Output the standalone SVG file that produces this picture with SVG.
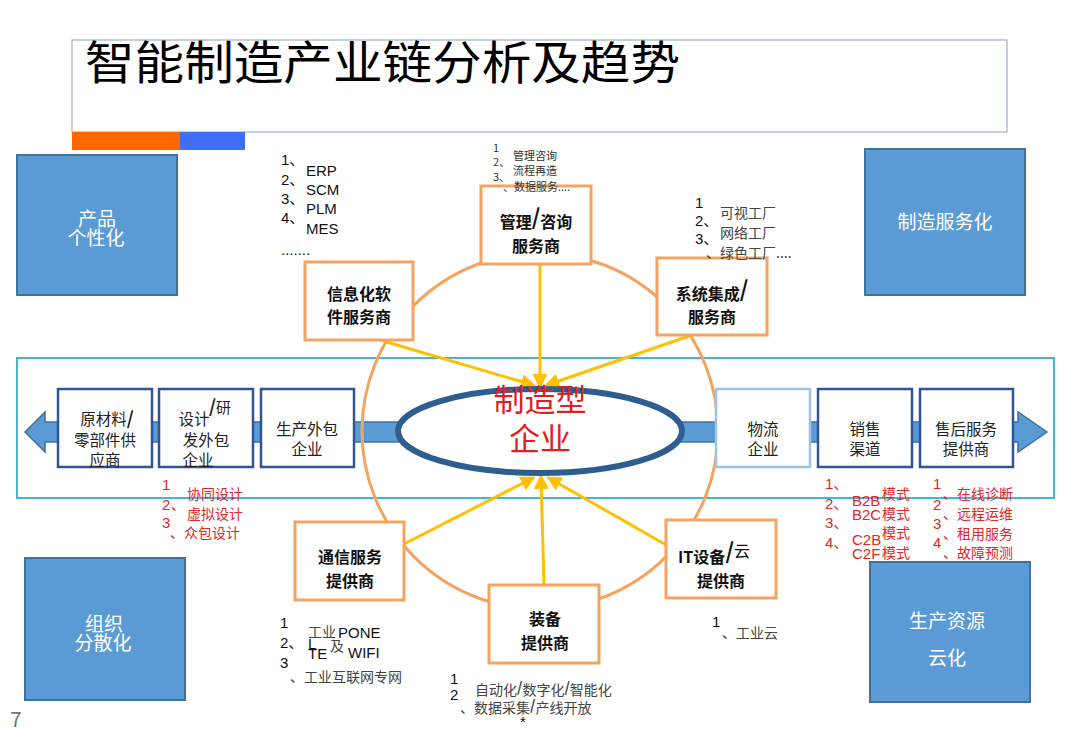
<svg xmlns="http://www.w3.org/2000/svg" width="1080" height="748" viewBox="0 0 1080 748">
<defs>
<marker id="ya" viewBox="0 0 10 10" refX="8" refY="5" markerWidth="5" markerHeight="5" orient="auto" markerUnits="strokeWidth">
<path d="M0,0 L10,5 L0,10 Z" fill="#FFC000"/>
</marker>
</defs>
<style>
text{font-family:"Noto Sans CJK SC","Liberation Sans",sans-serif;}
.bluebox{fill:#5B9BD5;stroke:#41719C;stroke-width:2;}
.wt{fill:#fff;font-size:19px;text-anchor:middle;}
.chain{fill:#fff;stroke:#2F5597;stroke-width:2.5;}
.chainl{fill:#fff;stroke:#9DC3E6;stroke-width:2.5;}
.ct{fill:#222;font-size:15.5px;text-anchor:middle;}
.obox{fill:#fff;stroke:#F4A460;stroke-width:3;}
.ot{fill:#111;font-size:16px;font-weight:bold;text-anchor:middle;}
.yl{stroke:#FFC000;stroke-width:3;fill:none;marker-end:url(#ya);}
.lt{fill:#111;font-size:15px;font-family:"Liberation Sans","Noto Sans CJK SC",sans-serif;}
.lg{fill:#444;font-size:14px;}
.sm{fill:#333;font-size:11px;}
.red{fill:#E02828;font-size:14px;}
.rn{fill:#E02828;font-size:15px;font-family:"Liberation Sans","Noto Sans CJK SC",sans-serif;}
</style>
<rect width="1080" height="748" fill="#fff"/>
<g id="title">
<rect x="72" y="40" width="935" height="92" fill="#fff" stroke="#8E9CB8" stroke-width="1"/>
<text x="85" y="79" font-size="46" fill="#000" textLength="595" lengthAdjust="spacingAndGlyphs">智能制造产业链分析及趋势</text>
<rect x="72" y="132" width="108" height="18" fill="#FF6600"/>
<rect x="180" y="132" width="65" height="18" fill="#3F6FF5"/>
</g>
<text x="10" y="727" font-size="21" fill="#777" font-family="Liberation Sans,sans-serif">7</text>
<g id="corner-product">
<rect class="bluebox" x="17" y="155" width="160" height="140"/>
<text class="wt" x="97" y="226">产品</text>
<text class="wt" x="96" y="245">个性化</text>
</g>
<g id="corner-service">
<rect class="bluebox" x="865" y="149" width="160" height="146"/>
<text class="wt" x="945" y="229" font-size="18">制造服务化</text>
</g>
<g id="corner-org">
<rect class="bluebox" x="25" y="558" width="160" height="142"/>
<text class="wt" x="104" y="631">组织</text>
<text class="wt" x="103" y="650">分散化</text>
</g>
<g id="corner-cloud">
<rect class="bluebox" x="870" y="562" width="160" height="140"/>
<text class="wt" x="947" y="628" font-size="18">生产资源</text>
<text class="wt" x="947" y="665" font-size="18">云化</text>
</g>
<g id="chain-frame">
<rect x="17" y="358" width="1037" height="140" fill="none" stroke="#3DB7DA" stroke-width="2"/>
</g>
<g id="connectors">
<path d="M25,432 L45,412 L45,422 L1018,422 L1018,412 L1047,432 L1018,452 L1018,442 L45,442 L45,452 Z" fill="#5B9BD5" stroke="#41719C" stroke-width="1.5"/>
<circle cx="540" cy="431" r="178" fill="none" stroke="#F4A460" stroke-width="3"/>
<line class="yl" x1="540" y1="264" x2="540" y2="386"/>
<line class="yl" x1="380" y1="340" x2="533" y2="385"/>
<line class="yl" x1="692" y1="335" x2="547" y2="385"/>
<line class="yl" x1="400" y1="546" x2="533" y2="478"/>
<line class="yl" x1="544" y1="585" x2="541" y2="477"/>
<line class="yl" x1="668" y1="546" x2="549" y2="478"/>
</g>
<g id="core">
<ellipse cx="540" cy="431" rx="142" ry="42" fill="#fff" stroke="#2E5E8E" stroke-width="6"/>
<text x="540" y="411" font-size="31" fill="#E02020" text-anchor="middle">制造型</text>
<text x="540" y="450" font-size="31" fill="#E02020" text-anchor="middle">企业</text>
</g>
<g id="n-raw">
<rect class="chain" x="58" y="389" width="94" height="78"/>
<text class="ct" x="107" y="425">原材料<tspan font-weight="bold" font-size="18">/</tspan></text>
<text class="ct" x="105" y="446">零部件供</text>
<text class="ct" x="105" y="466">应商</text>
</g>
<g id="n-design">
<rect class="chain" x="159" y="389" width="94" height="78"/>
<text class="ct" x="194" y="425">设计</text>
<text x="209" y="413" font-size="15" fill="#222"><tspan font-weight="bold" font-size="18">/</tspan>研</text>
<text class="ct" x="206" y="446">发外包</text>
<text class="ct" x="198" y="466">企业</text>
</g>
<g id="n-outsource">
<rect class="chain" x="261" y="389" width="93" height="78"/>
<text class="ct" x="307" y="435">生产外包</text>
<text class="ct" x="307" y="455">企业</text>
</g>
<g id="n-logistics">
<rect class="chainl" x="716" y="389" width="94" height="78"/>
<text class="ct" x="763" y="435">物流</text>
<text class="ct" x="763" y="455">企业</text>
</g>
<g id="n-sales">
<rect class="chain" x="818" y="389" width="94" height="78"/>
<text class="ct" x="865" y="435">销售</text>
<text class="ct" x="865" y="455">渠道</text>
</g>
<g id="n-aftersale">
<rect class="chain" x="920" y="389" width="93" height="78"/>
<text class="ct" x="966" y="435">售后服务</text>
<text class="ct" x="966" y="455">提供商</text>
</g>
<g id="n-consult">
<rect class="obox" x="481" y="186" width="110" height="78"/>
<text class="ot" x="536" y="228">管理<tspan font-size="22" dy="-3">/</tspan><tspan dy="3">咨询</tspan></text>
<text class="ot" x="536" y="252">服务商</text>
</g>
<g id="n-software">
<rect class="obox" x="305" y="262" width="108" height="78"/>
<text class="ot" x="359" y="300">信息化软</text>
<text class="ot" x="359" y="323">件服务商</text>
</g>
<g id="n-integration">
<rect class="obox" x="657" y="258" width="110" height="77"/>
<text class="ot" x="712" y="300">系统集成<tspan font-size="22" dy="-3">/</tspan></text>
<text class="ot" x="712" y="323">服务商</text>
</g>
<g id="n-telecom">
<rect class="obox" x="295" y="522" width="109" height="78"/>
<text class="ot" x="350" y="563">通信服务</text>
<text class="ot" x="350" y="587">提供商</text>
</g>
<g id="n-equipment">
<rect class="obox" x="489" y="585" width="110" height="78"/>
<text class="ot" x="545" y="625">装备</text>
<text class="ot" x="545" y="649">提供商</text>
</g>
<g id="n-it">
<rect class="obox" x="666" y="520" width="110" height="78"/>
<text class="ot" x="714" y="563">IT设备<tspan font-size="22" dy="-4">/</tspan><tspan dy="-2" font-weight="normal">云</tspan></text>
<text class="ot" x="721" y="587">提供商</text>
</g>
<g id="list-software">
<text class="lt" x="281" y="165">1、</text><text class="lt" x="306" y="176">ERP</text>
<text class="lt" x="281" y="185">2、</text><text class="lt" x="306" y="195">SCM</text>
<text class="lt" x="281" y="204">3、</text><text class="lt" x="306" y="214">PLM</text>
<text class="lt" x="281" y="223">4、</text><text class="lt" x="306" y="234">MES</text>
<text class="lt" x="281" y="255">.......</text>
</g>
<g id="list-consult">
<text class="sm" x="493" y="152">1</text>
<text class="sm" x="493" y="166">2、</text>
<text class="sm" x="493" y="181">3、</text>
<text class="sm" x="513" y="160">管理咨询</text>
<text class="sm" x="513" y="175">流程再造</text>
<text class="sm" x="503" y="191">、数据服务....</text>
</g>
<g id="list-integration">
<text class="lt" x="695" y="208" font-size="14">1</text>
<text class="lt" x="695" y="226" font-size="14">2、</text>
<text class="lt" x="695" y="244" font-size="14">3、</text>
<text class="lg" x="720" y="218">可视工厂</text>
<text class="lg" x="720" y="238">网络工厂</text>
<text class="lg" x="706" y="258">、绿色工厂....</text>
</g>
<g id="list-design">
<text class="rn" x="162" y="490">1</text>
<text class="red" x="187" y="499">协同设计</text>
<text class="rn" x="162" y="510">2</text>
<text class="red" x="171" y="510">、</text>
<text class="red" x="187" y="519">虚拟设计</text>
<text class="rn" x="162" y="528">3</text>
<text class="red" x="170" y="538">、众包设计</text>
</g>
<g id="list-sales">
<text class="rn" x="825" y="489">1、</text>
<text class="red" x="882" y="499">模式</text>
<text class="rn" x="825" y="509">2、</text>
<text class="rn" x="852" y="506" font-size="14">B2B</text>
<text class="rn" x="852" y="520" font-size="14">B2C</text>
<text class="red" x="882" y="519">模式</text>
<text class="rn" x="825" y="528">3、</text>
<text class="red" x="882" y="538">模式</text>
<text class="rn" x="825" y="548">4、</text>
<text class="rn" x="852" y="545" font-size="14">C2B</text>
<text class="rn" x="852" y="559" font-size="14">C2F</text>
<text class="red" x="882" y="558">模式</text>
</g>
<g id="list-aftersale">
<text class="rn" x="933" y="489">1</text>
<text class="red" x="943" y="499">、在线诊断</text>
<text class="rn" x="933" y="510">2</text>
<text class="red" x="943" y="519">、远程运维</text>
<text class="rn" x="933" y="529">3</text>
<text class="red" x="943" y="539">、租用服务</text>
<text class="rn" x="933" y="548">4</text>
<text class="red" x="943" y="558">、故障预测</text>
</g>
<g id="list-telecom">
<text class="lt" x="280" y="628">1</text>
<text class="lg" x="308" y="637">工业</text><text class="lt" x="338" y="638">PONE</text>
<text class="lt" x="280" y="648">2、</text>
<text class="lt" x="308" y="649">L</text>
<text class="lg" x="330" y="651">及</text>
<text class="lt" x="308" y="659">TE</text>
<text class="lt" x="348" y="658">WIFI</text>
<text class="lt" x="280" y="668">3</text>
<text class="lg" x="290" y="682">、工业互联网专网</text>
</g>
<g id="list-equipment">
<text class="lt" x="450" y="684">1</text>
<text class="lt" x="450" y="700">2</text>
<text class="lg" x="475" y="695">自动化<tspan font-weight="bold" dy="-3">/</tspan><tspan dy="3">数字化</tspan><tspan font-weight="bold" dy="-3">/</tspan><tspan dy="3">智能化</tspan></text>
<text class="lg" x="460" y="713">、数据采集<tspan font-weight="bold" dy="-3">/</tspan><tspan dy="3">产线开放</tspan></text>
<text class="lt" x="520" y="727" font-size="11">*</text>
</g>
<g id="list-it">
<text class="lt" x="712" y="627">1</text>
<text class="lg" x="722" y="638">、工业云</text>
</g>
</svg>
